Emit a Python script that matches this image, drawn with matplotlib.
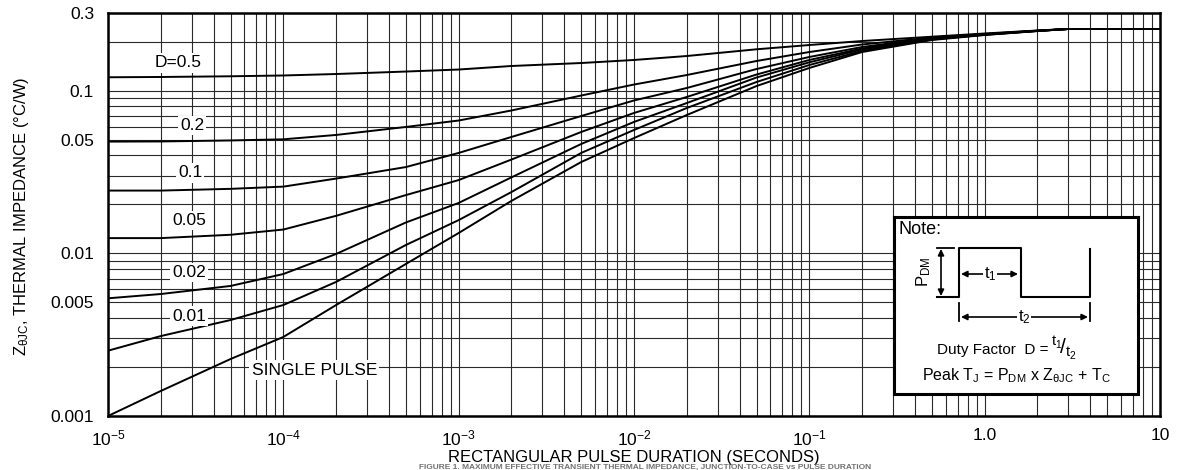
import numpy as np
import matplotlib
matplotlib.use("Agg")
import matplotlib.pyplot as plt
from matplotlib.ticker import FixedLocator, FixedFormatter, NullFormatter

plt.rcParams['font.family'] = ['Liberation Sans', 'DejaVu Sans']
plt.rcParams['mathtext.fontset'] = 'custom'
plt.rcParams['mathtext.rm'] = 'Liberation Sans'
plt.rcParams['mathtext.it'] = 'Liberation Sans:italic'

# pulse duration (s)
t = [1e-5, 2e-5, 5e-5, 1e-4, 2e-4, 5e-4, 1e-3, 2e-3, 5e-3, 1e-2,
     2e-2, 5e-2, 0.1, 0.2, 0.5, 1.0, 2.0, 3.0, 10.0]

# Z_thetaJC (C/W) per duty factor
z_d050 = [0.1208, 0.1213, 0.1225, 0.1239, 0.1265, 0.131, 0.1348, 0.1417, 0.1478, 0.1543,
          0.1632, 0.1795, 0.1907, 0.2018, 0.2145, 0.2245, 0.2342, 0.2393, 0.2393]
z_d020 = [0.0486, 0.0487, 0.0494, 0.0502, 0.0534, 0.0598, 0.0655, 0.0755, 0.0933, 0.109,
          0.1247, 0.1521, 0.1727, 0.1921, 0.2121, 0.2229, 0.2336, 0.2393, 0.2393]
z_d010 = [0.0243, 0.0243, 0.0249, 0.0257, 0.0288, 0.0339, 0.0414, 0.0519, 0.0698, 0.087,
          0.1038, 0.1358, 0.161, 0.1854, 0.2106, 0.2223, 0.2332, 0.2393, 0.2393]
z_d005 = [0.0124, 0.0124, 0.0130, 0.0140, 0.0170, 0.0228, 0.0282, 0.0377, 0.0557, 0.0729,
          0.0914, 0.1256, 0.1543, 0.1815, 0.2091, 0.2217, 0.2332, 0.2393, 0.2393]
z_d002 = [0.00529, 0.00562, 0.0063, 0.00746, 0.00991, 0.01547, 0.0204, 0.0293, 0.047, 0.0642,
          0.0839, 0.1204, 0.1493, 0.179, 0.2076, 0.221, 0.2328, 0.2393, 0.2393]
z_d001 = [0.00252, 0.0031, 0.00389, 0.00481, 0.00667, 0.01125, 0.016, 0.0238, 0.0414, 0.0573,
          0.0782, 0.113, 0.1437, 0.1752, 0.2061, 0.2204, 0.2325, 0.2393, 0.2393]
z_single = [0.001, 0.001425, 0.00224, 0.00306, 0.00481, 0.0086, 0.01333, 0.021, 0.0364, 0.0511,
            0.0708, 0.1067, 0.1378, 0.1727, 0.2047, 0.2197, 0.2325, 0.2393, 0.2393]

curves = [z_d050, z_d020, z_d010, z_d005, z_d002, z_d001, z_single]
curve_labels = ["D=0.5", "0.2", "0.1", "0.05", "0.02", "0.01", "SINGLE PULSE"]
label_pos = [(0.0665, 0.876), (0.080, 0.72), (0.078, 0.603), (0.077, 0.486),
             (0.077, 0.357), (0.077, 0.248), (0.196, 0.114)]

x_ticks = [1e-5, 1e-4, 1e-3, 1e-2, 1e-1, 1.0, 10.0]
x_ticklabels = [r'10$^{\mathregular{-5}}$', r'10$^{\mathregular{-4}}$', r'10$^{\mathregular{-3}}$',
                r'10$^{\mathregular{-2}}$', r'10$^{\mathregular{-1}}$', '1.0', '10']
y_ticks = [0.001, 0.005, 0.01, 0.05, 0.1, 0.3]
y_ticklabels = ['0.001', '0.005', '0.01', '0.05', '0.1', '0.3']

W, H = 1178, 470
fig = plt.figure(figsize=(W / 100, H / 100), dpi=100)
ax = fig.add_axes([108 / W, 1 - 416 / H, 1052 / W, 403 / H])

for z in curves:
    ax.plot(t, z, color='black', lw=1.4, zorder=3)

ax.set_xscale('log')
ax.set_yscale('log')
ax.set_xlim(1e-5, 10)
ax.set_ylim(0.001, 0.3)

# grid on every minor decade step
xminor = [m * 10.0 ** e for e in range(-5, 1) for m in range(2, 10)]
yminor = [m * 10.0 ** e for e in range(-3, 0) for m in range(2, 10) if m * 10.0 ** e < 0.3]
ax.xaxis.set_major_locator(FixedLocator(x_ticks))
ax.xaxis.set_major_formatter(FixedFormatter(x_ticklabels))
ax.xaxis.set_minor_locator(FixedLocator(xminor))
ax.xaxis.set_minor_formatter(NullFormatter())
ax.yaxis.set_major_locator(FixedLocator(y_ticks))
ax.yaxis.set_major_formatter(FixedFormatter(y_ticklabels))
ax.yaxis.set_minor_locator(FixedLocator(yminor + [0.01, 0.1]))
ax.yaxis.set_minor_formatter(NullFormatter())
ax.grid(which='both', color='#2a2a2a', lw=0.8, zorder=1)
ax.tick_params(which='both', length=0, labelsize=12.5)
ax.tick_params(axis='x', pad=9)
ax.tick_params(axis='y', pad=10)
for sp in ax.spines.values():
    sp.set_linewidth(1.8)
    sp.set_zorder(4)

for lab, (lx, ly) in zip(curve_labels, label_pos):
    ax.text(lx, ly, lab, transform=ax.transAxes, ha='center', va='center', fontsize=12.5,
            zorder=5, bbox=dict(facecolor='white', edgecolor='none', pad=1.5))

ax.set_xlabel('RECTANGULAR PULSE DURATION (SECONDS)', fontsize=12, labelpad=1)
fig.text(22 / W, 1 - 216 / H, r'Z$_{\mathregular{\theta JC}}$, THERMAL IMPEDANCE (°C/W)',
         rotation=90, ha='center', va='center', fontsize=12)

# figure caption, kept small so it fits under the axis title
fig.text(645 / W, 1 - 469 / H,
         'FIGURE 1. MAXIMUM EFFECTIVE TRANSIENT THERMAL IMPEDANCE, JUNCTION-TO-CASE vs PULSE DURATION',
         ha='center', va='baseline', fontsize=6, fontweight='bold', color='0.45')

# note box with the pulse sketch
ins = fig.add_axes([894 / W, 1 - 394 / H, 244 / W, 177 / H], zorder=6)
ins.set_xlim(894, 1138)
ins.set_ylim(394, 217)
ins.set_xticks([])
ins.set_yticks([])
ins.set_facecolor('white')
for sp in ins.spines.values():
    sp.set_linewidth(2.2)

ins.text(899, 221, 'Note:', ha='left', va='top', fontsize=13)
ins.plot([937, 959, 959, 1021, 1021, 1090, 1090], [297, 297, 248, 248, 297, 297, 248.5],
         color='black', lw=1.5)
ins.plot([937, 954], [248, 248], color='black', lw=1.3)
ins.annotate('', xy=(941, 249), xytext=(941, 296),
             arrowprops=dict(arrowstyle='<|-|>', lw=1.2, color='black', mutation_scale=9,
                             shrinkA=0, shrinkB=0))
ins.text(924, 272, r'P$_{\mathregular{DM}}$', rotation=90, ha='center', va='center', fontsize=12)
ins.annotate('', xy=(961, 274), xytext=(1018, 274),
             arrowprops=dict(arrowstyle='<|-|>', lw=1.2, color='black', mutation_scale=9,
                             shrinkA=0, shrinkB=0))
ins.text(990, 274, r't$_{\mathregular{1}}$', ha='center', va='center', fontsize=12,
         bbox=dict(facecolor='white', edgecolor='none', pad=0.5))
ins.plot([959, 959], [303, 321], color='black', lw=1.3)
ins.plot([1090, 1090], [303, 321], color='black', lw=1.3)
ins.annotate('', xy=(961, 317), xytext=(1088, 317),
             arrowprops=dict(arrowstyle='<|-|>', lw=1.2, color='black', mutation_scale=9,
                             shrinkA=0, shrinkB=0))
ins.text(1024, 317, r't$_{\mathregular{2}}$', ha='center', va='center', fontsize=12,
         bbox=dict(facecolor='white', edgecolor='none', pad=0.5))
ins.text(1049, 350, 'Duty Factor  D =', ha='right', va='center', fontsize=11)
ins.text(1051, 348, r'$^{\mathregular{t_1}}\!/_{\mathregular{t_2}}$',
         ha='left', va='center', fontsize=15)
ins.text(1016, 376, r'Peak T$_{\mathregular{J}}$ = P$_{\mathregular{DM}}$ x Z$_{\mathregular{\theta JC}}$ + T$_{\mathregular{C}}$',
         ha='center', va='center', fontsize=11.5)

fig.savefig('out.png', dpi=100)
